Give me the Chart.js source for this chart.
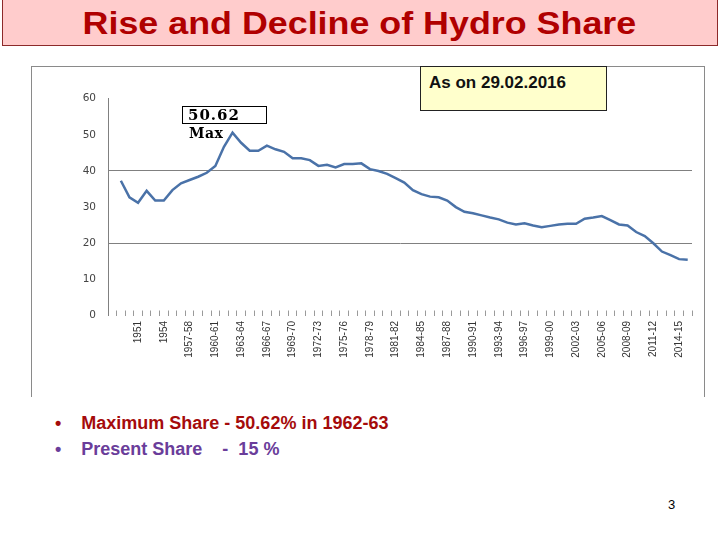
<!DOCTYPE html>
<html>
<head>
<meta charset="utf-8">
<title>Rise and Decline of Hydro Share</title>
<script src="https://cdn.jsdelivr.net/npm/chart.js@4.4.1/dist/chart.umd.min.js"></script>
<style>
  body { margin: 0; width: 720px; height: 540px; position: relative; overflow: hidden; background: #fff;
         font-family: "Liberation Sans", Arial, sans-serif; }
  #banner { position: absolute; left: 2px; top: 0; width: 714px; height: 45px; background: #ffcccc;
            border: 1px solid #8c2a2a; border-top: none; }
  #banner span { position: absolute; left: 0; width: 100%; top: 5px; text-align: center; font-weight: bold;
                 font-size: 32px; color: #b00000; transform: scaleX(1.12); transform-origin: 362px 0; }
  #frame { position: absolute; left: 31px; top: 66px; width: 672px; height: 330px;
           border: 1px solid #8a8a8a; border-bottom: none; }
  #wrap { position: absolute; left: 31px; top: 66px; width: 673px; height: 329px; }
  #asOn { position: absolute; left: 420px; top: 66px; width: 185px; height: 43px; background: #ffffcc;
          border: 1px solid #222; font-weight: bold; font-size: 17px; color: #111; }
  #asOn span { position: absolute; left: 8px; top: 6px; }
  #maxBox { position: absolute; left: 182px; top: 106px; width: 83px; height: 16px; border: 1.5px solid #000; }
  .maxTxt { position: absolute; font-family: "DejaVu Serif", serif; font-weight: bold; color: #000; }
  .bullet { position: absolute; left: 55px; font-weight: bold; font-size: 18px; white-space: pre; }
  #page { position: absolute; left: 668px; top: 497px; font-size: 13px; color: #000; }
</style>
</head>
<body>
<div id="banner"><span>Rise and Decline of Hydro Share</span></div>
<div id="frame"></div>
<div id="wrap"><canvas id="myChart"></canvas></div>
<div id="asOn"><span>As on 29.02.2016</span></div>
<div id="maxBox"></div>
<div class="maxTxt" style="left:188px; top:106px; font-size:15px; letter-spacing:1px;">50.62</div>
<div class="maxTxt" style="left:189px; top:125px; font-size:14px; letter-spacing:0.5px;">Max</div>
<div class="bullet" style="top:413px; color:#a50b0b;">•    Maximum Share - 50.62% in 1962-63</div>
<div class="bullet" style="top:439px; color:#6a3d9a;">•    Present Share    -  15 %</div>
<div id="page">3</div>

<script>
// categories (first slot is empty, as in the original sheet)
var years = ['', '1947', '1950', '1951', '1952', '1953', '1954', '1955', '1956',
  '1957-58', '1958-59', '1959-60', '1960-61', '1961-62', '1962-63', '1963-64', '1964-65',
  '1965-66', '1966-67', '1967-68', '1968-69', '1969-70', '1970-71', '1971-72', '1972-73',
  '1973-74', '1974-75', '1975-76', '1976-77', '1977-78', '1978-79', '1979-80', '1980-81',
  '1981-82', '1982-83', '1983-84', '1984-85', '1985-86', '1986-87', '1987-88', '1988-89',
  '1989-90', '1990-91', '1991-92', '1992-93', '1993-94', '1994-95', '1995-96', '1996-97',
  '1997-98', '1998-99', '1999-00', '2000-01', '2001-02', '2002-03', '2003-04', '2004-05',
  '2005-06', '2006-07', '2007-08', '2008-09', '2009-10', '2010-11', '2011-12', '2012-13',
  '2013-14', '2014-15', '2015-16'];

// hydro share of installed capacity (%)
var hydroShare = [null,
  37.3, 32.7, 31.2, 34.5, 31.8, 31.8, 34.7, 36.6, 37.5, 38.4,
  39.5, 41.4, 46.7, 50.62, 47.8, 45.6, 45.6, 47.0, 46.0, 45.3,
  43.5, 43.5, 43.0, 41.4, 41.7, 41.0, 41.9, 41.9, 42.1, 40.5,
  40.0, 39.2, 38.0, 36.8, 34.7, 33.6, 32.9, 32.7, 31.8, 30.0,
  28.7, 28.3, 27.7, 27.1, 26.6, 25.7, 25.2, 25.5, 24.9, 24.4,
  24.8, 25.2, 25.4, 25.4, 26.8, 27.1, 27.5, 26.4, 25.2, 24.9,
  23.1, 22.0, 20.0, 17.7, 16.7, 15.6, 15.4];

var yMin = 0, yMax = 60, yStep = 10;
var gridValues = [20, 40];
var labelEvery = 3;

var ctx = document.getElementById('myChart').getContext('2d');
var chart = new Chart(ctx, {
  type: 'line',
  data: {
    labels: years,
    datasets: [{
      label: 'Hydro share',
      data: hydroShare,
      borderColor: '#4a72a8',
      borderWidth: 2.5,
      pointRadius: 0,
      tension: 0,
      spanGaps: false
    }]
  },
  options: {
    responsive: true,
    maintainAspectRatio: false,
    animation: false,
    layout: { padding: { top: 32.7, right: 12, left: 0, bottom: 0 } },
    plugins: { legend: { display: false }, tooltip: { enabled: false } },
    scales: {
      x: {
        type: 'category',
        offset: true,
        grid: { offset: true, drawOnChartArea: false, tickLength: -5, color: '#9a9a9a' },
        border: { display: false },
        ticks: {
          autoSkip: false,
          minRotation: 90,
          maxRotation: 90,
          padding: 10.5,
          color: '#333',
          font: { family: 'Liberation Sans Narrow, Liberation Sans, sans-serif', size: 10 },
          callback: function(v, i) { return i % labelEvery === 0 ? years[i] : ''; }
        },
        afterFit: function(s) { s.height = 79.5; s.paddingLeft = 0; s.paddingRight = 0; }
      },
      y: {
        min: yMin,
        max: yMax,
        ticks: { stepSize: yStep, padding: 12, color: '#444', font: { family: 'DejaVu Sans', size: 10.5 } },
        grid: {
          drawTicks: false,
          color: function(c) { return gridValues.indexOf(c.tick.value) >= 0 ? '#808080' : 'rgba(0,0,0,0)'; }
        },
        border: { color: '#808080', width: 1 },
        afterFit: function(s) { s.width = 77; }
      }
    }
  }
});
</script>
</body>
</html>
